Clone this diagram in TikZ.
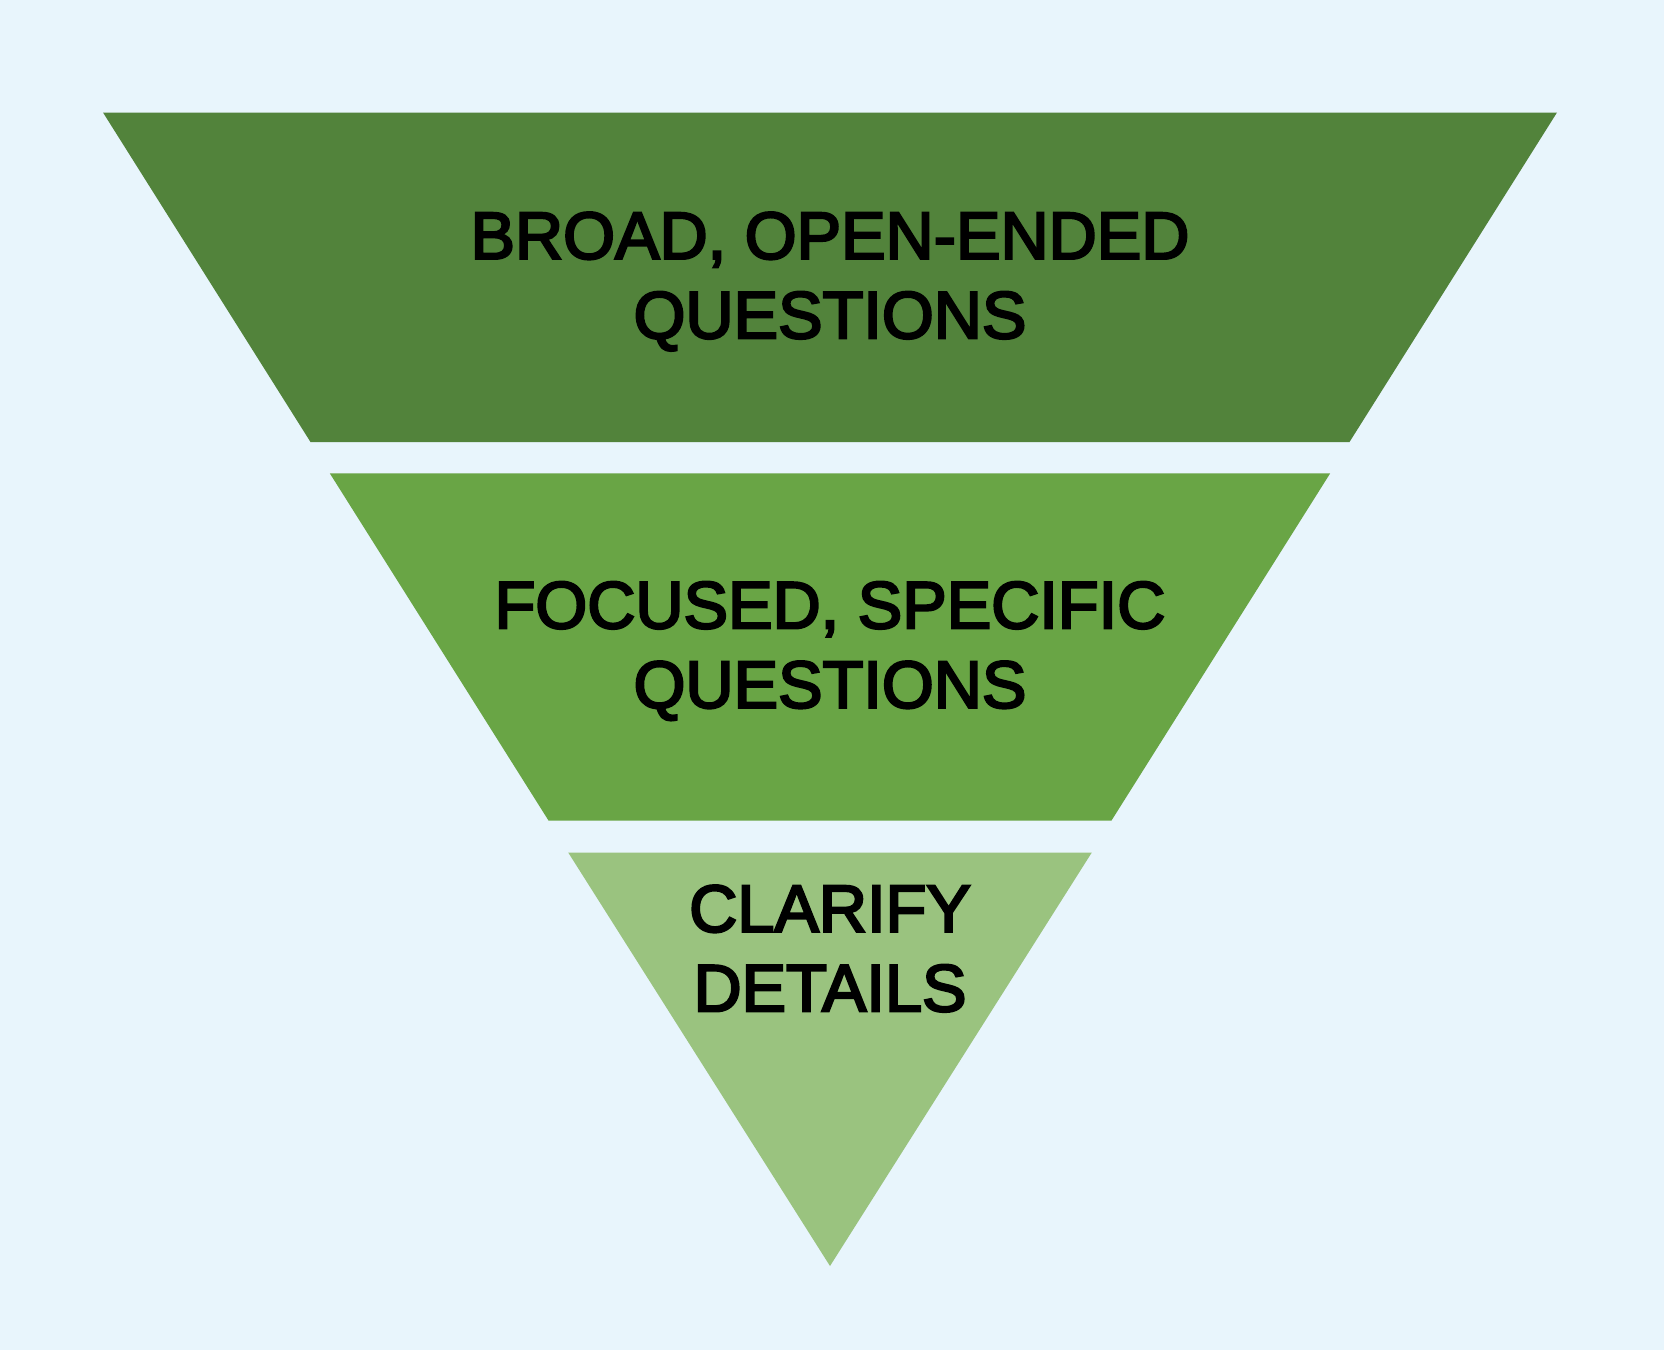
\documentclass[tikz,border=0pt]{standalone}
\usepackage{fontspec}
\newfontfamily\labelfont[FakeBold=3.5]{Liberation Sans}
\definecolor{bgc}{HTML}{E8F5FC}
\definecolor{gdark}{HTML}{52833B}
\definecolor{gmid}{HTML}{69A545}
\definecolor{glight}{HTML}{9AC37F}
\tikzset{
  lbl/.style={anchor=north, inner sep=0pt, align=center, text=black,
    font=\labelfont\fontsize{66.7}{79.5}\selectfont}
}
\begin{document}
\begin{tikzpicture}[x=1pt,y=-1pt]
\fill[bgc] (0,0) rectangle (1664,1350);
\useasboundingbox (0,0) rectangle (1664,1350);
\fill[gdark] (103,112.5) -- (1557,112.5) -- (1349.5,442) -- (310.5,442) -- cycle;
\fill[gmid] (329.8,473.3) -- (1330.2,473.3) -- (1111.5,820.5) -- (548.5,820.5) -- cycle;
\fill[glight] (568.2,852.5) -- (1091.8,852.5) -- (830,1266) -- cycle;
\node[lbl] (t1) at (830,212) {BROAD, OPEN-ENDED\\QUESTIONS};
\node[lbl] (t2) at (830,581.5) {FOCUSED, SPECIFIC\\QUESTIONS};
\node[lbl] (t3) at (830,885) {CLARIFY\\DETAILS};
\end{tikzpicture}
\end{document}
